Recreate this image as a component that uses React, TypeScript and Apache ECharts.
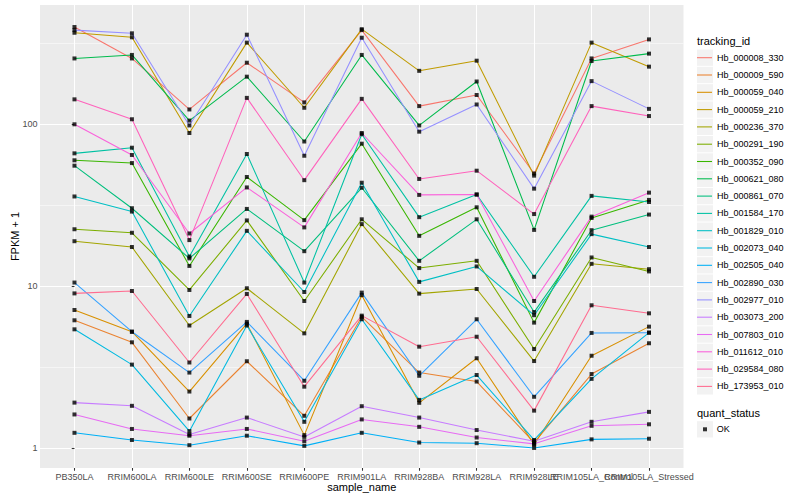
import React, { useEffect, useRef } from "react";
import * as echarts from "echarts";

const categories = [
  "PB350LA", "RRIM600LA", "RRIM600LE", "RRIM600SE", "RRIM600PE", "RRIM901LA",
  "RRIM928BA", "RRIM928LA", "RRIM928LE", "RRIM105LA_Control", "RRIM105LA_Stressed",
];

const seriesNames = [
  "Hb_000008_330", "Hb_000009_590", "Hb_000059_040", "Hb_000059_210", "Hb_000236_370",
  "Hb_000291_190", "Hb_000352_090", "Hb_000621_080", "Hb_000861_070", "Hb_001584_170",
  "Hb_001829_010", "Hb_002073_040", "Hb_002505_040", "Hb_002890_030", "Hb_002977_010",
  "Hb_003073_200", "Hb_007803_010", "Hb_011612_010", "Hb_029584_080", "Hb_173953_010",
];

const seriesColors = [
  "#F8766D", "#EA8331", "#D89000", "#C09B00", "#A3A500", "#7CAE00", "#39B600",
  "#00BB4E", "#00BF7D", "#00C1A3", "#00BFC4", "#00BAE0", "#00B0F6", "#35A2FF",
  "#9590FF", "#C77CFF", "#E76BF3", "#FA62DB", "#FF62BC", "#FF6C90",
];

// FPKM + 1 values per gene, one per sample (same order as categories)
const hb000008_330 = [397, 254, 123, 239, 136, 380, 129, 151, 49.5, 254, 333];
const hb000009_590 = [6.14, 4.49, 1.52, 3.43, 1.58, 6.45, 2.92, 2.57, 1.08, 2.86, 4.43];
const hb000059_040 = [7.11, 5.22, 2.23, 5.85, 1.2, 8.77, 1.9, 3.58, 1.05, 3.71, 5.61];
const hb000059_210 = [366, 343, 88, 318, 126, 385, 213, 246, 48, 318, 226];
const hb000236_370 = [18.9, 17.4, 5.7, 9.68, 5.1, 24.1, 8.97, 9.58, 3.44, 13.7, 12.7];
const hb000291_190 = [22.4, 21.3, 9.45, 25.4, 8.08, 25.8, 12.9, 14.3, 4.08, 15.0, 12.3];
const hb000352_090 = [59.7, 57.4, 13.3, 47.1, 25.5, 75.6, 20.4, 30.6, 5.94, 26.3, 34];
const hb000621_080 = [254, 267, 105, 196, 78, 267, 98, 183, 22.2, 245, 272];
const hb000861_070 = [55.3, 30.2, 14.8, 29.9, 16.4, 40.4, 14.3, 25.8, 6.9, 22.1, 27.6];
const hb001584_170 = [65.9, 71.4, 15.2, 65.3, 10.5, 86.5, 26.6, 36.7, 11.4, 36, 33];
const hb001829_010 = [35.7, 28.8, 6.53, 21.9, 9.18, 43.4, 10.6, 13.2, 6.6, 20.9, 17.4];
const hb002073_040 = [5.4, 3.27, 1.27, 5.7, 1.45, 6.23, 1.98, 2.82, 1.12, 2.67, 5.15];
const hb002505_040 = [1.24, 1.12, 1.04, 1.19, 1.03, 1.24, 1.08, 1.07, 1.0, 1.13, 1.14];
const hb002890_030 = [10.5, 5.22, 2.92, 6.0, 2.6, 9.1, 2.79, 6.23, 2.07, 5.13, 5.15];
const hb002977_010 = [380, 363, 98, 356, 63.7, 341, 89.7, 132, 39.9, 184, 124];
const hb003073_200 = [1.905, 1.82, 1.21, 1.54, 1.17, 1.81, 1.54, 1.29, 1.1, 1.45, 1.67];
const hb007803_010 = [1.61, 1.31, 1.19, 1.31, 1.1, 1.5, 1.35, 1.16, 1.06, 1.37, 1.4];
const hb011612_010 = [99.6, 64.4, 21.1, 40.6, 23.0, 88, 36.5, 36.7, 8.08, 26.8, 37.7];
const hb029584_080 = [142, 107, 19.2, 145, 45, 143, 45.8, 51.5, 27.8, 129, 112];
const hb173953_010 = [9.0, 9.31, 3.37, 8.93, 2.39, 6.56, 4.22, 4.86, 1.7, 7.6, 6.78];

const seriesValues = [
  hb000008_330, hb000009_590, hb000059_040, hb000059_210, hb000236_370,
  hb000291_190, hb000352_090, hb000621_080, hb000861_070, hb001584_170,
  hb001829_010, hb002073_040, hb002505_040, hb002890_030, hb002977_010,
  hb003073_200, hb007803_010, hb011612_010, hb029584_080, hb173953_010,
];

const majorTicks = [1, 10, 100];
const minorTicks = [3.1623, 31.623, 316.23];
const quantStatus = ["OK"];

const FONT = "Liberation Sans, Arial, Helvetica, sans-serif";

export default function App() {
  const ref = useRef<HTMLDivElement>(null);

  useEffect(() => {
    if (!ref.current) return;
    const chart = echarts.init(ref.current, undefined, { renderer: "svg" });
    const idx = categories.map((_, i) => i);
    // labels that sit next to each other without touching go on the first x axis,
    // the one that overlaps its neighbour goes on a second, label-only x axis
    const labelsA = idx.filter((i) => i % 2 === 0 || i < 9);
    const labelsB = idx.filter((i) => !labelsA.includes(i));

    const lineSeries = seriesNames.map((name, s) => ({
      type: "line",
      name,
      color: seriesColors[s],
      data: seriesValues[s].map((v, i) => [i, v]),
      showSymbol: false,
      symbol: "none",
      lineStyle: { width: 1.07, color: seriesColors[s] },
      z: 2,
      silent: true,
    }));

    const points: number[][] = [];
    seriesValues.forEach((vals) => vals.forEach((v, i) => points.push([i, v])));

    const legendTop = 57.7 - 8.65;
    const step = 17.3;
    const keyBoxes = seriesNames.map((_, i) => ({
      type: "rect",
      shape: { x: 697, y: legendTop + step * i + 0.5, width: 16, height: step - 1 },
      style: { fill: "#F2F2F2" },
      z: 1,
    }));
    keyBoxes.push({
      type: "rect",
      shape: { x: 697, y: 429.3 - 8.15, width: 16, height: step - 1 },
      style: { fill: "#F2F2F2" },
      z: 1,
    });

    const xLabelStyle = {
      formatter: (v: number) => categories[Math.round(v)] ?? "",
      fontSize: 9,
      color: "#4D4D4D",
      margin: 4,
      fontFamily: FONT,
      hideOverlap: false,
      showMinLabel: true,
      showMaxLabel: true,
    };

    chart.setOption({
      animation: false,
      textStyle: { fontFamily: FONT },
      grid: {
        left: 40,
        right: 116.5,
        top: 5,
        bottom: 32,
        show: true,
        backgroundColor: "#EBEBEB",
        borderWidth: 0,
        containLabel: false,
        outerBoundsMode: "none",
      },
      title: [
        {
          text: "tracking_id",
          left: 697,
          top: 35,
          padding: 0,
          textStyle: { fontSize: 11, fontWeight: "normal", color: "#000", fontFamily: FONT },
        },
        {
          text: "quant_status",
          left: 697,
          top: 407,
          padding: 0,
          textStyle: { fontSize: 11, fontWeight: "normal", color: "#000", fontFamily: FONT },
        },
      ],
      legend: [
        {
          orient: "vertical",
          left: 697,
          top: legendTop,
          padding: 0,
          itemGap: 0,
          itemWidth: 15,
          itemHeight: 1.07,
          selectedMode: false,
          data: seriesNames.map((n, i) => ({
            name: n,
            icon: "rect",
            itemStyle: { color: seriesColors[i] },
          })),
          textStyle: { fontSize: 9, lineHeight: step, color: "#000", fontFamily: FONT },
        },
        {
          orient: "vertical",
          left: 703,
          top: 429.3 - 8.65,
          padding: 0,
          itemGap: 0,
          itemWidth: 4,
          itemHeight: 4,
          selectedMode: false,
          data: quantStatus.map((n) => ({ name: n, icon: "rect", itemStyle: { color: "#000" } })),
          textStyle: {
            fontSize: 9,
            lineHeight: step,
            color: "#000",
            fontFamily: FONT,
            padding: [0, 0, 0, 4.7],
          },
        },
      ],
      xAxis: [
        {
          type: "value",
          min: -0.6,
          max: 10.6,
          position: "bottom",
          axisLine: { show: false },
          axisTick: {
            show: true,
            customValues: idx,
            length: 2.75,
            lineStyle: { color: "#333333", width: 1.07 },
          },
          axisLabel: { ...xLabelStyle, customValues: labelsA },
          splitLine: { show: true, lineStyle: { color: "#FFFFFF", width: 1.07 } },
          name: "sample_name",
          nameLocation: "middle",
          nameGap: 13.5,
          nameMoveOverlap: false,
          nameTextStyle: { fontSize: 11, color: "#000", fontFamily: FONT },
        },
        {
          type: "value",
          min: -0.6,
          max: 10.6,
          position: "bottom",
          axisLine: { show: false },
          axisTick: { show: false, customValues: labelsB },
          axisLabel: { ...xLabelStyle, customValues: labelsB },
          splitLine: { show: false },
        },
      ],
      yAxis: [
        {
          type: "log",
          logBase: 10,
          min: 0.752,
          max: 543,
          position: "left",
          axisLine: { show: false },
          axisTick: {
            show: true,
            customValues: majorTicks,
            length: 2.75,
            lineStyle: { color: "#333333", width: 1.07 },
          },
          axisLabel: {
            customValues: majorTicks,
            formatter: (v: number) => String(Math.round(v)),
            fontSize: 9,
            color: "#4D4D4D",
            margin: 2.5,
            fontFamily: FONT,
          },
          splitLine: { show: true, lineStyle: { color: "#FFFFFF", width: 1.07 } },
          name: "FPKM + 1",
          nameLocation: "middle",
          nameGap: 19.5,
          nameMoveOverlap: false,
          nameRotate: 90,
          nameTextStyle: { fontSize: 11, color: "#000", fontFamily: FONT },
        },
        {
          type: "log",
          logBase: 10,
          min: 0.752,
          max: 543,
          position: "right",
          axisLine: { show: false },
          axisTick: { show: false, customValues: minorTicks },
          axisLabel: { show: false, customValues: minorTicks },
          splitLine: { show: true, lineStyle: { color: "#FFFFFF", width: 0.53 } },
        },
      ],
      graphic: keyBoxes,
      series: [
        ...lineSeries,
        {
          type: "scatter",
          name: "OK",
          data: points,
          symbol: "rect",
          symbolSize: 4,
          itemStyle: { color: "#000" },
          z: 5,
          silent: true,
        },
      ],
    });

    return () => chart.dispose();
  }, []);

  return (
    <div
      ref={ref}
      style={{ position: "absolute", left: 0, top: 0, width: 800, height: 500, background: "#fff" }}
    />
  );
}
